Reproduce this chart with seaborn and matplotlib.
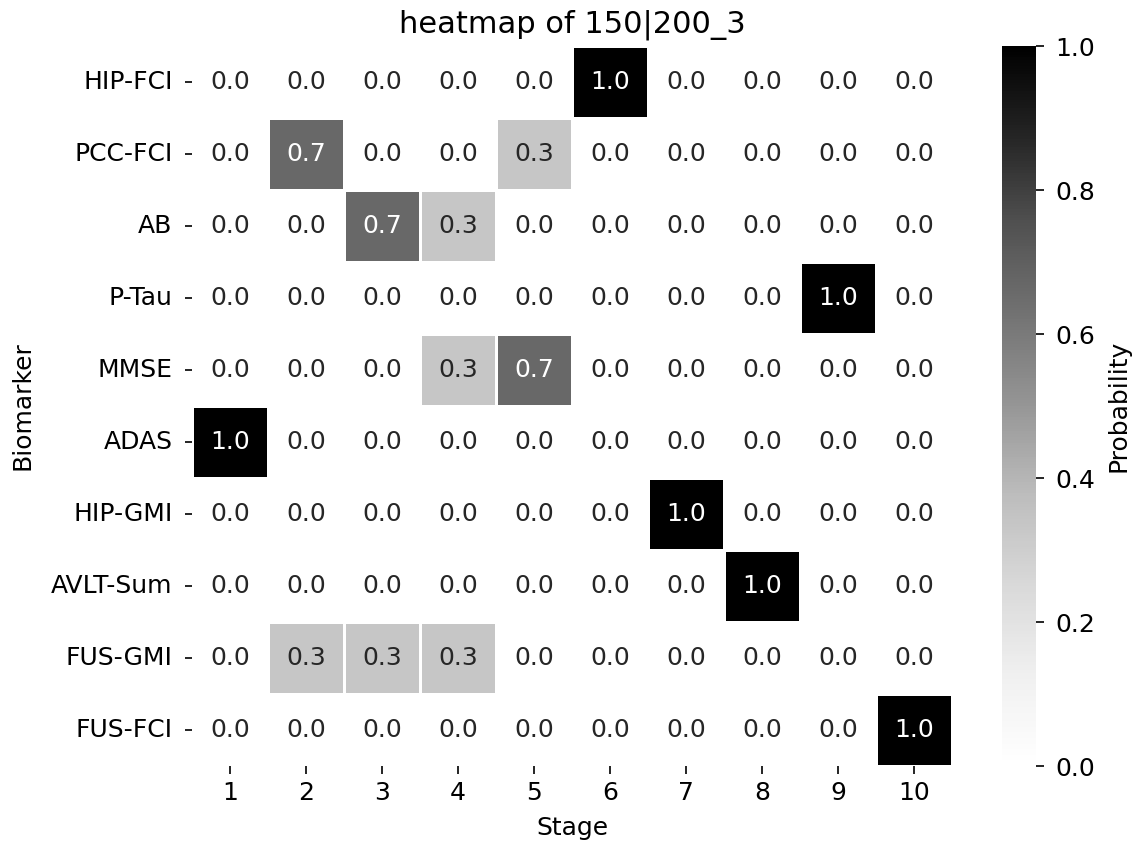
import numpy as np
import pandas as pd
import matplotlib
matplotlib.use("Agg")
import matplotlib.pyplot as plt
import seaborn as sns

biomarkers = ["HIP-FCI", "PCC-FCI", "AB", "P-Tau", "MMSE",
              "ADAS", "HIP-GMI", "AVLT-Sum", "FUS-GMI", "FUS-FCI"]
stages = [1, 2, 3, 4, 5, 6, 7, 8, 9, 10]

# probability of each biomarker being placed at each stage
hip_fci  = [0, 0, 0, 0, 0, 1, 0, 0, 0, 0]
pcc_fci  = [0, 2/3, 0, 0, 1/3, 0, 0, 0, 0, 0]
ab       = [0, 0, 2/3, 1/3, 0, 0, 0, 0, 0, 0]
p_tau    = [0, 0, 0, 0, 0, 0, 0, 0, 1, 0]
mmse     = [0, 0, 0, 1/3, 2/3, 0, 0, 0, 0, 0]
adas     = [1, 0, 0, 0, 0, 0, 0, 0, 0, 0]
hip_gmi  = [0, 0, 0, 0, 0, 0, 1, 0, 0, 0]
avlt_sum = [0, 0, 0, 0, 0, 0, 0, 1, 0, 0]
fus_gmi  = [0, 1/3, 1/3, 1/3, 0, 0, 0, 0, 0, 0]
fus_fci  = [0, 0, 0, 0, 0, 0, 0, 0, 0, 1]

rows = [hip_fci, pcc_fci, ab, p_tau, mmse, adas, hip_gmi, avlt_sum, fus_gmi, fus_fci]
df = pd.DataFrame(rows, index=biomarkers, columns=stages)

fig = plt.figure(figsize=(11.37, 8.47), dpi=100)
ax = fig.add_axes([0.1689, 0.0956, 0.6684, 0.850])
cax = fig.add_axes([0.8813, 0.0956, 0.030, 0.850])

fs = 18
sns.heatmap(df, ax=ax, cbar_ax=cax, cmap="Greys", vmin=0, vmax=1,
            annot=True, fmt=".1f", linewidths=1.0, linecolor="white",
            annot_kws={"fontsize": fs},
            cbar_kws={"label": "Probability"})

ax.set_title("heatmap of 150|200_3", fontsize=22, pad=10)
ax.set_xlabel("Stage", fontsize=fs, labelpad=8)
ax.set_ylabel("Biomarker", fontsize=fs, labelpad=12)
ax.tick_params(axis="y", labelsize=fs, length=5, width=1.2, pad=9)
ax.tick_params(axis="x", labelsize=fs, length=6, width=1.2, pad=5)
ax.set_yticklabels(biomarkers, rotation=0)
ax.set_xticklabels([str(s) for s in stages], rotation=0)
cax.tick_params(labelsize=fs, length=6, width=1.2, pad=8)
cax.yaxis.label.set_size(fs)
cax.yaxis.labelpad = 8

fig.savefig("out.png", dpi=100)
